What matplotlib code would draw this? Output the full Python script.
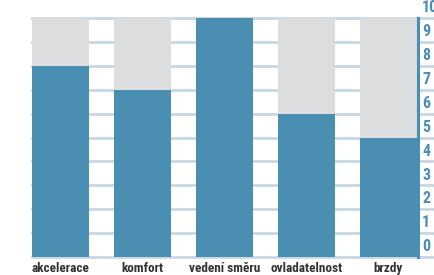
import matplotlib
matplotlib.use("Agg")
import matplotlib.pyplot as plt

categories = ["akcelerace", "komfort", "vedení směru", "ovladatelnost", "brzdy"]
values = [8, 7, 10, 6, 5]
max_value = 10
yticks = list(range(0, 11))

COND = ["Roboto Condensed", "DejaVu Sans"]

BLUE = "#4a8eb1"
GREY = "#dcdddf"
GRID = "#c8d7e3"
TEXT = "#333333"

W, H = 435, 275
fig = plt.figure(figsize=(W / 100, H / 100), dpi=100)
left, right, bottom, top = 32, 418, 257, 18
ax = fig.add_axes([left / W, 1 - bottom / H, (right - left) / W, (bottom - top) / H])

x = list(range(len(categories)))
bw = 57 / 82
ax.set_xlim(-bw / 2, len(categories) - 1 + bw / 2 + 1 / 82)
ax.set_ylim(0, max_value)

for t in yticks:
    ax.axhline(t, xmin=0, xmax=(W - left) / (right - left), color=GRID, lw=2, zorder=0, clip_on=False)

ax.bar(x, [max_value] * len(values), width=bw, color=GREY, zorder=2)
ax.bar(x, values, width=bw, color=BLUE, zorder=3)

ax.axvline(ax.get_xlim()[1], color=BLUE, lw=2.2, zorder=4, clip_on=False)

for s in ax.spines.values():
    s.set_visible(False)
ax.set_xticks([])
ax.set_yticks([])

for t in yticks:
    ax.annotate(str(t), xy=(1, t), xycoords=("axes fraction", "data"),
                xytext=(3, 2), textcoords="offset points", ha="left", va="bottom",
                color=BLUE, fontsize=11.5, fontweight="heavy", family=COND,
                annotation_clip=False)

for xi, c in zip(x, categories):
    ax.annotate(c, xy=(xi, 0), xycoords="data", xytext=(0, -3.5), textcoords="offset points",
                ha="center", va="top", color=TEXT, fontsize=9.5, fontweight="bold",
                family=COND, annotation_clip=False)

fig.savefig("out.png", dpi=100)
